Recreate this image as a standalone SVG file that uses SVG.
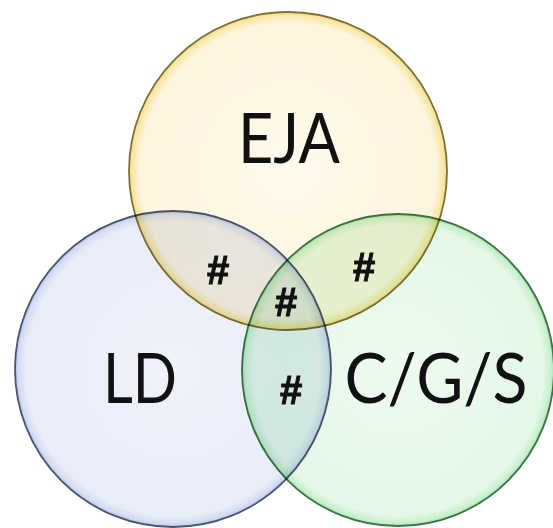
<svg xmlns="http://www.w3.org/2000/svg" width="553" height="528" viewBox="0 0 553 528">
<defs>
<radialGradient id="gY" cx="50%" cy="50%" r="50%">
<stop offset="0%" stop-color="#fffaec"/>
<stop offset="93%" stop-color="#fef5df"/>
<stop offset="98%" stop-color="#f8e7a6"/>
<stop offset="100%" stop-color="#f3dc8a"/>
</radialGradient>
<radialGradient id="gB" cx="50%" cy="50%" r="50%">
<stop offset="0%" stop-color="#eff2fa"/>
<stop offset="93%" stop-color="#e9edf8"/>
<stop offset="98%" stop-color="#d3dcf1"/>
<stop offset="100%" stop-color="#b4c3e6"/>
</radialGradient>
<radialGradient id="gG" cx="50%" cy="50%" r="50%">
<stop offset="0%" stop-color="#edfbef"/>
<stop offset="93%" stop-color="#e4f8e7"/>
<stop offset="98%" stop-color="#c9f0ce"/>
<stop offset="100%" stop-color="#a6e4ae"/>
</radialGradient>
<style>
.c{mix-blend-mode:multiply;stroke-width:1.8}
.lbl{font-family:Lato,"Open Sans","Liberation Sans",sans-serif;font-size:70px;fill:#111;text-anchor:middle}
.h{font-family:"Liberation Sans",Arial,sans-serif;font-weight:bold;font-size:40px;fill:#111;stroke:#111;stroke-width:1;text-anchor:middle}
</style>
</defs>
<rect width="553" height="528" fill="#ffffff"/>
<g id="eja">
<circle class="c" cx="288" cy="171" r="159" fill="url(#gY)" stroke="#7d7134"/>
<text class="lbl" x="289" y="163" textLength="102" lengthAdjust="spacingAndGlyphs">EJA</text>
</g>
<g id="ld">
<circle class="c" cx="173" cy="369" r="158" fill="url(#gB)" stroke="#475573"/>
<text class="lbl" x="140" y="403" textLength="74" lengthAdjust="spacingAndGlyphs">LD</text>
</g>
<g id="cgs">
<circle class="c" cx="398" cy="370" r="156" fill="url(#gG)" stroke="#3b7446"/>
<text class="lbl" x="436" y="403" textLength="183" lengthAdjust="spacingAndGlyphs">C/G/S</text>
</g>
<g id="counts">
<text class="h" x="218" y="284">#</text>
<text class="h" x="364" y="281">#</text>
<text class="h" x="286" y="316">#</text>
<text class="h" x="291" y="404">#</text>
</g>
<g id="connectors"/>
</svg>
